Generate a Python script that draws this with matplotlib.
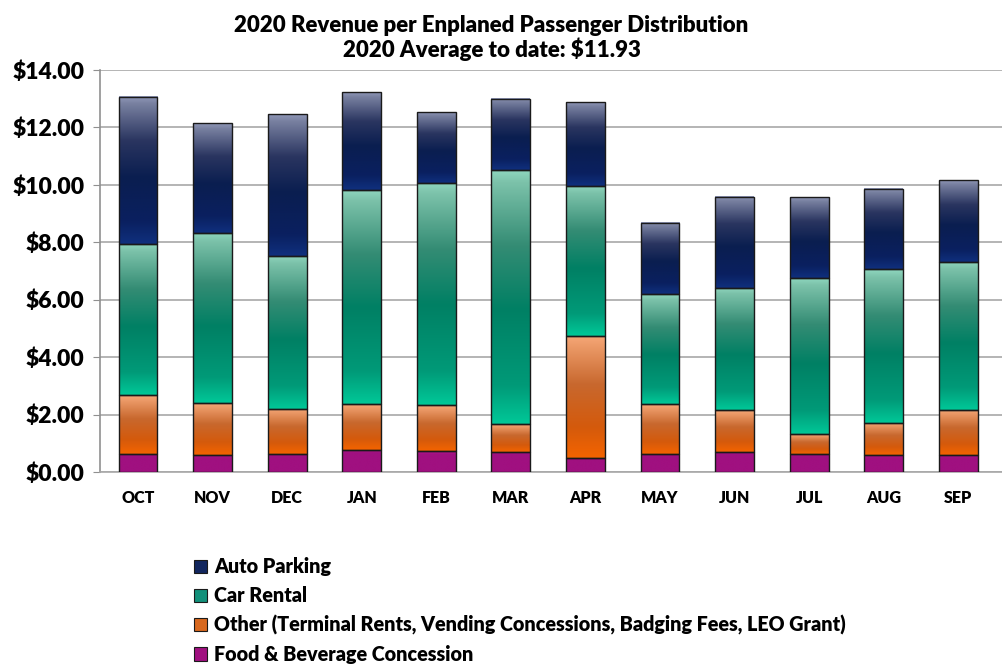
import numpy as np
import matplotlib
matplotlib.use("Agg")
import matplotlib.pyplot as plt
from matplotlib.colors import LinearSegmentedColormap
from matplotlib.patches import Patch
from matplotlib.ticker import FuncFormatter

months = ['OCT', 'NOV', 'DEC', 'JAN', 'FEB', 'MAR', 'APR', 'MAY', 'JUN', 'JUL', 'AUG', 'SEP']
food = [0.63, 0.59, 0.63, 0.77, 0.73, 0.70, 0.49, 0.63, 0.70, 0.63, 0.59, 0.59]
other = [2.05, 1.81, 1.57, 1.60, 1.60, 0.97, 4.25, 1.74, 1.46, 0.69, 1.12, 1.57]
car_rental = [5.26, 5.93, 5.33, 7.46, 7.74, 8.85, 5.23, 3.83, 4.25, 5.44, 5.36, 5.16]
parking = [5.13, 3.83, 4.94, 3.41, 2.47, 2.48, 2.92, 2.48, 3.17, 2.82, 2.79, 2.85]

labels = ['Food & Beverage Concession',
          'Other (Terminal Rents, Vending Concessions, Badging Fees, LEO Grant)',
          'Car Rental', 'Auto Parking']

# gradient stops top -> bottom for each series
grads = [
    [(0, '#c0189a'), (0.15, '#a01080'), (1, '#a01080')],
    [(0, '#f6a878'), (0.4, '#c8682e'), (0.75, '#d45a0c'), (1, '#f46400')],
    [(0, '#90d8c0'), (0.05, '#7cc2aa'), (0.3, '#348c74'), (0.55, '#008064'), (0.85, '#009a78'), (1, '#00c898')],
    [(0, '#9098b8'), (0.05, '#7880a0'), (0.3, '#2a3560'), (0.55, '#0a1e50'), (0.85, '#0a2060'), (1, '#10307e')],
]
solid = ['#a01080', '#d8681e', '#12907a', '#12265e']

plt.rcParams['font.family'] = ['Lato', 'DejaVu Sans']
plt.rcParams['font.weight'] = 'heavy'

fig = plt.figure(figsize=(10.03, 6.70), dpi=100)
ax = fig.add_axes([100/1003, 1 - 472/670, 903/1003, 402/670])

x = np.arange(len(months))
width = 0.52
series = [food, other, car_rental, parking]
bottom = np.zeros(len(months))
ax.set_xlim(-0.51, 11.6)
ax.set_ylim(0, 14)
ax.set_autoscale_on(False)

for vals, g in zip(series, grads):
    cmap = LinearSegmentedColormap.from_list('g', g)
    grad = np.linspace(0, 1, 256).reshape(-1, 1)
    bars = ax.bar(x, vals, width, bottom=bottom, facecolor='none',
                  edgecolor='#1a1a1a', linewidth=1.0, zorder=4)
    for p in bars:
        x0, y0 = p.get_x(), p.get_y()
        ax.imshow(grad, cmap=cmap, aspect='auto', origin='upper',
                  extent=[x0, x0 + p.get_width(), y0, y0 + p.get_height()],
                  zorder=3, interpolation='bilinear')
    bottom += np.array(vals)

ax.set_xlim(-0.51, 11.6)
ax.set_ylim(0, 14)
ax.set_yticks(np.arange(0, 15, 2))
ax.yaxis.set_major_formatter(FuncFormatter(lambda v, p: f'${v:.2f}'))
ax.set_xticks(x)
ax.set_xticklabels(months)
ax.tick_params(axis='y', labelsize=16.5, length=5, color='#909090', pad=6)
ax.tick_params(axis='x', labelsize=11.5, length=0, pad=13)
ax.grid(axis='y', color='#a8a8a8', linewidth=1.2, zorder=0)
ax.set_axisbelow(True)
for s in ['top', 'right']:
    ax.spines[s].set_visible(False)
ax.spines['left'].set_color('#909090')
ax.spines['bottom'].set_color('#a8a8a8')
ax.spines['left'].set_linewidth(1.2)
ax.spines['bottom'].set_linewidth(1.2)

fig.text(0.49, 0.978, '2020 Revenue per Enplaned Passenger Distribution\n2020 Average to date: $11.93',
         ha='center', va='top', fontsize=16, fontweight='heavy', linespacing=1.1)

handles = [Patch(facecolor=c, edgecolor='#1a1a1a', linewidth=0.8) for c in solid]
leg = fig.legend(handles[::-1], labels[::-1], loc='upper left',
                 bbox_to_anchor=(0.186, 0.18), frameon=False, fontsize=14.2,
                 handlelength=0.65, handleheight=0.65, handletextpad=0.35,
                 labelspacing=0.5, borderaxespad=0)

fig.savefig('out.png', dpi=100)
